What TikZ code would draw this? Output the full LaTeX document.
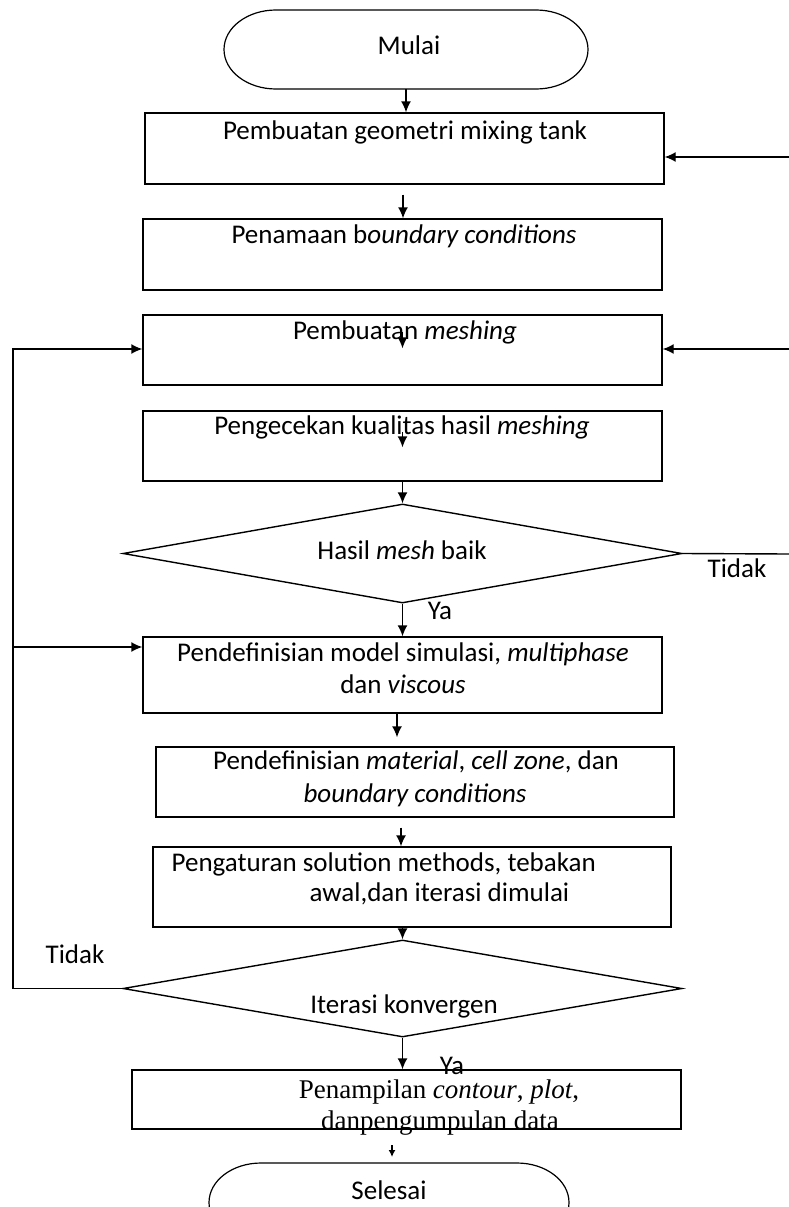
\documentclass[tikz,border=0pt]{standalone}
\usepackage{fontspec}
\setmainfont{Carlito}
\newfontfamily\timesfont{Liberation Serif}
\usetikzlibrary{arrows.meta,shapes.geometric,calc}

\begin{document}
\begin{tikzpicture}[x=1pt,y=-1pt,
  line width=1.4pt,
  box/.style={draw, rectangle, inner sep=0pt, minimum width=519pt},
  term/.style={rectangle, inner sep=0pt, outer sep=0pt, minimum height=79pt},
  decision/.style={draw, diamond, inner sep=0pt, minimum width=559pt},
  txt/.style={inner sep=0pt, text height=19pt, text depth=6pt, font=\fontsize{27}{32}\selectfont},
  flow/.style={-{Latex[length=11pt,width=10pt]}},
  smallflow/.style={-{Latex[length=7pt,width=7pt]}},
]
\useasboundingbox (0,0) rectangle (789,1207);
\clip (0,0) rectangle (789,1207);

% terminals: straight top and bottom with half-elliptic ends
\node[term, minimum width=364pt] (mulai) at (406,49.5) {};
\node[txt] (mulait) at (409,48) {Mulai};
\node[term, minimum width=360pt] (selesai) at (389,1202.5) {};
\node[txt] (selesait) at (389,1193) {Selesai};
\foreach \t in {mulai,selesai}{
  \draw[line width=1.2pt] ($(\t.north west)+(52,0)$) -- ($(\t.north east)+(-52,0)$)
    arc[start angle=90, end angle=-90, x radius=52pt, y radius=39.5pt]
    -- ($(\t.south west)+(52,0)$)
    arc[start angle=270, end angle=90, x radius=52pt, y radius=39.5pt] -- cycle;
}

% process boxes
\node[box, minimum height=71pt] (b1) at (404.5,148.5) {};
\node[txt] (b1t) at (405,133) {Pembuatan geometri mixing tank};

\node[box, minimum height=71pt] (b2) at (402.5,254.5) {};
\node[txt] (b2t) at (404,237) {Penamaan b\textit{oundary conditions}};

\node[box, minimum height=70pt] (b3) at (402.5,350) {};
\node[txt] (b3t) at (405,333) {Pembuatan \textit{meshing}};

\node[box, minimum height=70pt] (b4) at (402.5,446) {};
\node[txt] (b4t) at (402,428) {Pengecekan kualitas hasil \textit{meshing}};

\node[decision, minimum height=99pt] (d1) at (402.5,553.5) {};
\node[txt] (d1t) at (402,553) {Hasil \textit{mesh} baik};

\node[box, minimum height=76pt] (b5) at (402.5,675) {};
\node[txt] (b5t1) at (403,655) {Pendefinisian model simulasi, \textit{multiphase}};
\node[txt] (b5t2) at (403,687) {dan \textit{viscous}};

\node[box, minimum width=518pt, minimum height=70pt] (b6) at (415,782) {};
\node[txt] (b6t1) at (416,763) {Pendefinisian \textit{material}, \textit{cell zone}, dan};
\node[txt] (b6t2) at (415,796) {\textit{boundary conditions}};

\node[box, minimum width=518pt, minimum height=80pt] (b7) at (412,887) {};
\node[txt, anchor=west] (b7t1) at (171,865) {Pengaturan solution methods, tebakan};
\node[txt, anchor=west] (b7t2) at (309,895) {awal,dan iterasi dimulai};

\node[decision, minimum height=97pt] (d2) at (402.5,988.5) {};
\node[txt] (d2t) at (404,1007) {Iterasi konvergen};

\node[box, minimum width=549pt, minimum height=59pt] (b8) at (406.5,1099.5) {};
\node[txt, font=\timesfont\fontsize{27}{32}\selectfont] (b8t1) at (439,1092) {Penampilan \textit{contour}, \textit{plot},};
\node[txt, font=\timesfont\fontsize{27}{32}\selectfont] (b8t2) at (440,1123) {danpengumpulan data};

% branch labels
\node[txt] (ya1) at (440,613) {Ya};
\node[txt] (ya2) at (452,1068) {Ya};
\node[txt] (tidak1) at (737,571) {Tidak};
\node[txt] (tidak2) at (75,957) {Tidak};

% free ends at the right edge and the left return line
\coordinate (r1) at (789,157);
\coordinate (r3) at (789,349);
\coordinate (r4) at (789,554);
\coordinate (lx) at (13,0);
\coordinate (b5in) at ($(b5.west)+(0,-28)$);

% main flow
\draw[flow] (mulai.south) -- (mulai.south |- b1.north);
\draw[flow] ($(b1.south)+(-1.5,10)$) -- ($(b2.north)+(0.5,0)$);
\draw[flow] ($(b3.north)+(0,18)$) -- ($(b3.north)+(0,34)$);
\draw[flow] ($(b4.north)+(0,22)$) -- ($(b4.north)+(0,37)$);
\draw[flow] (b4.south) -- (d1.north);
\draw[flow] (d1.south) -- (b5.north);
\draw[flow] ($(b5.south)+(-5.5,0)$) -- ($(b6.north)+(-18,-9)$);
\draw[flow] ($(b6.south)+(-14,10)$) -- ($(b7.north)+(-11,0)$);
\draw[flow] (d2.north |- b7.south) -- (d2.north);
\draw[flow] (d2.south) -- (d2.south |- b8.north);
\draw[smallflow] ($(selesai.north)+(3,-18)$) -- ($(selesai.north)+(3,-6)$);

% "Tidak" branches
\draw (d1.east) -- (r4);
\draw[flow] (r1) -- (r1 -| b1.east);
\draw[flow] (r3) -- (r3 -| b3.east);
\draw[flow] (d2.west) -- (d2.west -| lx) |- ($(b3.west)+(0,-1)$);
\draw[flow] (b5in -| lx) -- (b5in);
\end{tikzpicture}
\end{document}
